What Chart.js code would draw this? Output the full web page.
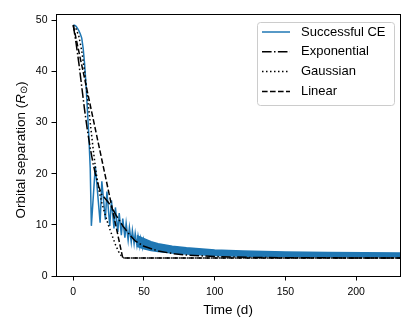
<!DOCTYPE html>
<html>
<head>
<meta charset="utf-8">
<script src="https://cdn.jsdelivr.net/npm/chart.js@4.4.1/dist/chart.umd.min.js"></script>
<style>
  html, body { margin: 0; padding: 0; background: #fff; }
  #wrap { width: 415px; height: 332px; }
</style>
</head>
<body>
<div id="wrap"><canvas id="sepChart" width="415" height="332"></canvas></div>
<script>
// --- data ---
const xTicks = [0, 50, 100, 150, 200];
const yTicks = [0, 10, 20, 30, 40, 50];

// successful common envelope (early drop + decaying spikes)
const ceTime = [0, 1, 2, 3, 4, 5, 6, 7, 8, 9, 10, 11, 12, 12.8,
  15.6, 19, 20.2, 22.7, 23.8, 25.8, 27, 28.8, 29.8, 31.5, 32.5, 34, 35,
  36.5, 37.4, 38.8, 39.7, 41, 41.8, 43, 43.8, 45, 45.8, 47, 47.7, 49, 49.7, 51];
const ceSep = [49, 49, 48.8, 48.4, 47.9, 47.3, 46.5, 44.5, 41.5, 37.5, 32.5, 27.5, 21, 9.8,
  21.5, 10.4, 18.5, 11, 16.5, 9.8, 14.8, 9.3, 13.4, 8.6, 12.3, 8, 11.2,
  7.5, 10.3, 7, 9.5, 6.6, 8.9, 6.3, 8.3, 6, 7.8, 5.8, 7.4, 5.6, 7.1, 5.4];

// late-time fast oscillation: upper and lower edge of the blue band
const bandTime = [45, 50, 55, 60, 70, 80, 100, 120, 150, 180, 232];
const bandUpper = [7.9, 7.3, 6.7, 6.3, 5.8, 5.5, 5.1, 4.9, 4.7, 4.6, 4.5];
const bandLower = [5.8, 5.3, 5.0, 4.8, 4.5, 4.3, 4.0, 3.85, 3.8, 3.75, 3.75];

const expTime = [0, 2, 4, 6, 8, 10, 12, 14, 16, 18, 20, 25, 27.5, 30, 35, 40, 44, 50, 60, 70, 80, 100, 130, 180, 232];
const expSep = [49, 45.5, 41.5, 37, 32.5, 28.5, 25, 22, 19.5, 17.5, 16, 14.3, 13.3, 12, 9.8, 8, 6.8, 5.8, 4.9, 4.4, 4.1, 3.8, 3.6, 3.55, 3.5];

const gaussTime = [0, 2, 4, 6, 8, 10, 12, 14, 16, 18, 20, 22.5, 25, 28, 30, 32, 34, 36, 232];
const gaussSep = [49, 48.3, 46.8, 44, 40, 35, 30, 25, 20.5, 17, 14.5, 12, 9.8, 7.5, 6, 4.8, 3.9, 3.5, 3.5];

const linTime = [0, 35, 232];
const linSep = [49, 3.5, 3.5];

const BLUE = '#1f77b4';
const toPts = (xs, ys) => xs.map((x, i) => ({ x: x, y: ys[i] }));

Chart.defaults.font.family = "'Liberation Sans', Arial, sans-serif";
Chart.defaults.color = '#000';

// box (top + right spines)
const frameBox = {
    id: 'frameBox',
    afterDraw(chart) {
        const { ctx, chartArea: a } = chart;
        ctx.save();
        ctx.strokeStyle = '#000';
        ctx.lineWidth = 1;
        ctx.strokeRect(a.left + 0.5, a.top + 0.5, a.right - a.left, a.bottom - a.top);
        ctx.restore();
    }
};

// y title with italic R and subscript sun symbol
const yTitle = {
    id: 'yTitle',
    afterDraw(chart) {
        const ctx = chart.ctx;
        const fam = "'Liberation Sans', Arial, sans-serif";
        const parts = [
            { t: 'Orbital separation (', f: '13.5px ' + fam, dy: 0 },
            { t: 'R', f: 'italic 13.5px ' + fam, dy: 0 },
            { t: '\u2299', f: '9.5px ' + fam, dy: 3 },
            { t: ')', f: '13.5px ' + fam, dy: 0 }
        ];
        ctx.save();
        let total = 0;
        parts.forEach(p => { ctx.font = p.f; p.w = ctx.measureText(p.t).width; total += p.w; });
        ctx.translate(21.5, 150);
        ctx.rotate(-Math.PI / 2);
        ctx.fillStyle = '#000';
        ctx.textBaseline = 'middle';
        ctx.textAlign = 'left';
        let x = -total / 2;
        parts.forEach(p => {
            ctx.font = p.f;
            ctx.fillText(p.t, x, p.dy);
            x += p.w;
        });
        ctx.restore();
    }
};

// legend box top right
const boxLegend = {
    id: 'boxLegend',
    afterDraw(chart) {
        const ctx = chart.ctx;
        const x0 = 257, y0 = 22, w = 137, h = 83, r = 3;
        ctx.save();
        ctx.beginPath();
        ctx.roundRect(x0 + 0.5, y0 + 0.5, w, h, r);
        ctx.fillStyle = 'rgba(255,255,255,0.8)';
        ctx.fill();
        ctx.strokeStyle = '#cccccc';
        ctx.lineWidth = 1;
        ctx.stroke();
        const items = chart.data.datasets.filter(d => d.label);
        items.forEach((d, i) => {
            const y = 32 + i * 19.8;
            ctx.beginPath();
            ctx.setLineDash(d.borderDash || []);
            ctx.strokeStyle = d.borderColor;
            ctx.lineWidth = d.borderWidth;
            ctx.moveTo(262, y);
            ctx.lineTo(290, y);
            ctx.stroke();
            ctx.setLineDash([]);
            ctx.fillStyle = '#000';
            ctx.font = "13px 'Liberation Sans', Arial, sans-serif";
            ctx.textBaseline = 'middle';
            ctx.fillText(d.label, 301, y);
        });
        ctx.restore();
    }
};

const lineBase = { pointRadius: 0, tension: 0, fill: false, borderWidth: 1.5 };

new Chart(document.getElementById('sepChart').getContext('2d'), {
    type: 'line',
    data: {
        datasets: [
            Object.assign({}, lineBase, { label: 'Successful CE', data: toPts(ceTime, ceSep), borderColor: BLUE, order: 9 }),
            Object.assign({}, lineBase, { label: 'Exponential', data: toPts(expTime, expSep), borderColor: '#000', borderDash: [9.6, 2.4, 1.5, 2.4], order: 3 }),
            Object.assign({}, lineBase, { label: 'Gaussian', data: toPts(gaussTime, gaussSep), borderColor: '#000', borderDash: [1.5, 2.5], order: 2 }),
            Object.assign({}, lineBase, { label: 'Linear', data: toPts(linTime, linSep), borderColor: '#000', borderDash: [5.6, 2.4], order: 1 }),
            Object.assign({}, lineBase, { label: '', data: toPts(bandTime, bandUpper), borderColor: BLUE, backgroundColor: BLUE, fill: '+1', order: 10 }),
            Object.assign({}, lineBase, { label: '', data: toPts(bandTime, bandLower), borderColor: BLUE, order: 10 })
        ]
    },
    options: {
        responsive: false,
        animation: false,
        devicePixelRatio: 1,
        layout: { padding: { top: 14, right: 15, left: 0, bottom: 0 } },
        plugins: {
            legend: { display: false },
            tooltip: { enabled: false }
        },
        scales: {
            x: {
                type: 'linear',
                min: -12.2,
                max: 231,
                afterBuildTicks: s => { s.ticks = xTicks.map(v => ({ value: v })); },
                afterFit: s => { s.height = 56; },
                ticks: { font: { size: 10.5 }, color: '#000', padding: 5, maxRotation: 0 },
                grid: { drawOnChartArea: false, tickLength: 4.5, color: '#000', tickWidth: 1 },
                border: { color: '#000', width: 1 },
                title: { display: true, text: 'Time (d)', font: { size: 13.5 }, color: '#000', padding: { top: 0, bottom: 14 } }
            },
            y: {
                type: 'linear',
                min: 0,
                max: 51.2,
                afterBuildTicks: s => { s.ticks = yTicks.map(v => ({ value: v })); },
                afterFit: s => { s.width = 56; },
                ticks: { font: { size: 10.5 }, color: '#000', padding: 4 },
                grid: { drawOnChartArea: false, tickLength: 4.5, color: '#000', tickWidth: 1 },
                border: { color: '#000', width: 1 }
            }
        }
    },
    plugins: [frameBox, yTitle, boxLegend]
});
</script>
</body>
</html>
